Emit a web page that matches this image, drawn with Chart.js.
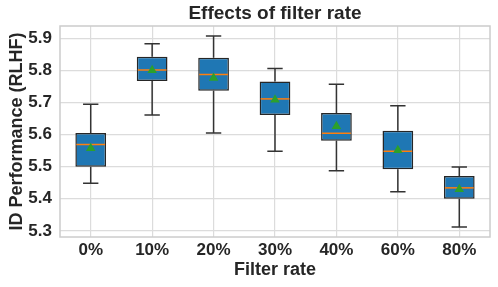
<!DOCTYPE html>
<html>
<head>
<meta charset="utf-8">
<script src="https://cdn.jsdelivr.net/npm/chart.js@4.4.1/dist/chart.umd.min.js"></script>
<style>
  html, body { margin: 0; padding: 0; background: #fff; }
  #wrap { width: 498px; height: 287px; }
</style>
</head>
<body>
<div id="wrap"><canvas id="boxChart"></canvas></div>
<script>
  // ---- data
  const rates = ['0%', '10%', '20%', '30%', '40%', '60%', '80%'];
  const whiskerLow = [5.448, 5.661, 5.605, 5.548, 5.487, 5.422, 5.312];
  const q1 = [5.500, 5.767, 5.736, 5.661, 5.581, 5.492, 5.400];
  const medians = [5.569, 5.801, 5.787, 5.711, 5.604, 5.548, 5.434];
  const q3 = [5.605, 5.842, 5.839, 5.765, 5.667, 5.612, 5.471];
  const whiskerHigh = [5.694, 5.883, 5.907, 5.806, 5.757, 5.690, 5.499];
  const means = [5.557, 5.800, 5.776, 5.708, 5.626, 5.551, 5.430];
  const yTicks = [5.3, 5.4, 5.5, 5.6, 5.7, 5.8, 5.9];
  const chartTitle = 'Effects of filter rate';

  const textColor = '#262626';
  const gridColor = '#dcdcdc';
  const edgeColor = '#262626';
  const fontFamily = 'Liberation Sans, Arial, sans-serif';

  const boxes = [];
  for (let i = 0; i < rates.length; i++) {
    boxes.push([q1[i], q3[i]]);
  }

  // whiskers, medians, frame and title (centred over the plot area)
  const boxPlugin = {
    id: 'boxParts',
    beforeDatasetsDraw(chart) {
      const {ctx, scales: {x, y}} = chart;
      const meta = chart.getDatasetMeta(0);
      ctx.save();
      ctx.strokeStyle = '#333333';
      ctx.lineWidth = 1.5;
      for (let i = 0; i < rates.length; i++) {
        const cx = x.getPixelForValue(i);
        const half = meta.data[i].width / 4;
        ctx.beginPath();
        ctx.moveTo(cx, y.getPixelForValue(q3[i]));
        ctx.lineTo(cx, y.getPixelForValue(whiskerHigh[i]));
        ctx.moveTo(cx - half, y.getPixelForValue(whiskerHigh[i]));
        ctx.lineTo(cx + half, y.getPixelForValue(whiskerHigh[i]));
        ctx.moveTo(cx, y.getPixelForValue(q1[i]));
        ctx.lineTo(cx, y.getPixelForValue(whiskerLow[i]));
        ctx.moveTo(cx - half, y.getPixelForValue(whiskerLow[i]));
        ctx.lineTo(cx + half, y.getPixelForValue(whiskerLow[i]));
        ctx.stroke();
      }
      ctx.restore();
    },
    afterDatasetDraw(chart, args) {
      if (args.index !== 0) return;
      const {ctx, scales: {x, y}} = chart;
      const meta = chart.getDatasetMeta(0);
      ctx.save();
      ctx.strokeStyle = '#ff7f0e';
      ctx.lineWidth = 1.5;
      for (let i = 0; i < rates.length; i++) {
        const cx = x.getPixelForValue(i);
        const half = meta.data[i].width / 2 - 1;
        const my = y.getPixelForValue(medians[i]);
        ctx.beginPath();
        ctx.moveTo(cx - half, my);
        ctx.lineTo(cx + half, my);
        ctx.stroke();
      }
      ctx.restore();
    },
    afterDraw(chart) {
      const {ctx, chartArea: a} = chart;
      ctx.save();
      ctx.strokeStyle = '#cccccc';
      ctx.lineWidth = 1.5;
      ctx.strokeRect(a.left, a.top, a.right - a.left, a.bottom - a.top);
      ctx.fillStyle = textColor;
      ctx.font = 'bold 19px ' + fontFamily;
      ctx.textAlign = 'center';
      ctx.textBaseline = 'middle';
      ctx.fillText(chartTitle, (a.left + a.right) / 2, 13.5);
      ctx.restore();
    }
  };

  const boxChart = new Chart(document.getElementById('boxChart'), {
    type: 'bar',
    data: {
      labels: rates,
      datasets: [{
        label: 'box',
        data: boxes,
        backgroundColor: '#1f77b4',
        borderColor: edgeColor,
        borderWidth: 1.5,
        borderSkipped: false,
        barPercentage: 0.5,
        categoryPercentage: 1,
        order: 2
      }, {
        type: 'line',
        label: 'mean',
        data: means,
        showLine: false,
        pointStyle: 'triangle',
        pointRadius: 5.5,
        pointBackgroundColor: '#2ca02c',
        pointBorderColor: '#2ca02c',
        pointBorderWidth: 0,
        order: 1
      }]
    },
    options: {
      responsive: true,
      maintainAspectRatio: false,
      animation: false,
      layout: { padding: { left: 0, right: 8, top: 26, bottom: 0 } },
      plugins: {
        legend: { display: false },
        tooltip: { enabled: false },
        title: { display: false }
      },
      scales: {
        x: {
          afterFit: s => { s.height = 50; },
          grid: { color: gridColor, lineWidth: 1.2, offset: false, drawTicks: false },
          border: { display: false },
          ticks: {
            color: textColor,
            padding: 3,
            font: { family: fontFamily, size: 17, weight: 'bold' }
          },
          title: {
            display: true,
            text: 'Filter rate',
            color: textColor,
            padding: { top: 0, bottom: 6 },
            font: { family: fontFamily, size: 18, weight: 'bold' }
          }
        },
        y: {
          min: 5.281,
          max: 5.938,
          afterFit: s => { s.width = 60; },
          afterBuildTicks: s => { s.ticks = yTicks.map(v => ({ value: v })); },
          grid: { color: gridColor, lineWidth: 1.2, drawTicks: false },
          border: { display: false },
          ticks: {
            color: textColor,
            padding: 8,
            callback: v => v.toFixed(1),
            font: { family: fontFamily, size: 17, weight: 'bold' }
          },
          title: {
            display: true,
            text: 'ID Performance (RLHF)',
            color: textColor,
            padding: { top: 6, bottom: 0 },
            font: { family: fontFamily, size: 18, weight: 'bold' }
          }
        }
      }
    },
    plugins: [boxPlugin]
  });
</script>
</body>
</html>
